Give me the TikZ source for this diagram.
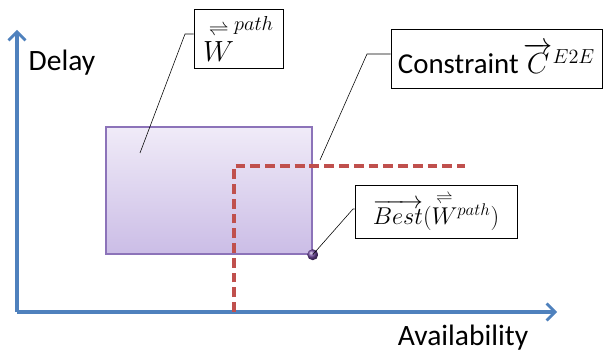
\documentclass[tikz,border=0pt]{standalone}
\usepackage{amsmath}
\usepackage{fontspec}
\setmainfont{Carlito}
\usetikzlibrary{arrows.meta}

\definecolor{axisblue}{RGB}{79,129,189}
\definecolor{limitred}{RGB}{192,80,77}
\definecolor{setline}{RGB}{140,115,185}
\definecolor{settop}{RGB}{240,235,248}
\definecolor{setbot}{RGB}{203,189,230}
\definecolor{dotpurple}{RGB}{112,72,160}

\begin{document}
\begin{tikzpicture}[x=0.025cm,y=-0.025cm]
	\tikzstyle{axis}=[axisblue,line width=2.2pt,-{Straight Barb[length=6pt,width=12pt,line width=2pt]}]
	\tikzstyle{limit}=[limitred,line width=2.2pt,dash pattern=on 7pt off 3.5pt]
	\tikzstyle{setbox}=[draw=setline,line width=1pt,top color=settop,bottom color=setbot,inner sep=0pt]
	\tikzstyle{callout}=[draw,fill=white,line width=0.5pt,inner sep=2pt]
	\tikzstyle{axislabel}=[font=\fontsize{21}{24}\selectfont,inner sep=0pt]
	\useasboundingbox (0,0) rectangle (603,352);
	% axes
	\coordinate (o) at (17,312);
	\coordinate (ytip) at (17,30);
	\coordinate (xtip) at (557,312);
	\draw[axis] (o) -- (ytip);
	\draw[axis] (o) -- (xtip);
	\node[axislabel] (ylab) at (62,63) {Delay};
	\node[axislabel] (xlab) at (463,338) {Availability};
	% set of path weights
	\node[setbox,minimum width=5.15cm,minimum height=3.175cm] (wset) at (209,190.5) {};
	% constraint
	\coordinate (cknee) at (234,166);
	\coordinate (cend) at (465,166);
	\draw[limit] (cknee |- o) -- (cknee) -- (cend);
	% best point
	\shade[ball color=dotpurple] (wset.south east) circle (5.5);
	% labels
	\node[callout,minimum width=2.225cm,minimum height=1.475cm,font=\fontsize{19.5}{22}\selectfont] (wlab) at (238.5,38.5)
		{$\overset{\rightleftharpoons}{W}^{path}$};
	\node[callout,minimum width=5.275cm,minimum height=1.475cm,font=\fontsize{20.5}{23}\selectfont] (clab) at (496.5,58.5)
		{Constraint\,$\overrightarrow{C}{}^{E2E}$};
	\node[callout,minimum width=4.05cm,minimum height=1.325cm,font=\fontsize{18.5}{21}\selectfont] (blab) at (436,211.5)
		{$\overrightarrow{Best}(\overset{\rightleftharpoons}{W}{}^{path})$};
	\coordinate (wknee) at (185,34);
	\coordinate (wpt) at (140,153);
	\coordinate (ckneeb) at (367,54);
	\coordinate (cpt) at (320,160);
	\coordinate (bknee) at (353,209);
	\draw (wknee -| wlab.west) -- (wknee) -- (wpt);
	\draw (ckneeb -| clab.west) -- (ckneeb) -- (cpt);
	\draw (bknee -| blab.west) -- (bknee) -- (wset.south east);
\end{tikzpicture}
\end{document}
